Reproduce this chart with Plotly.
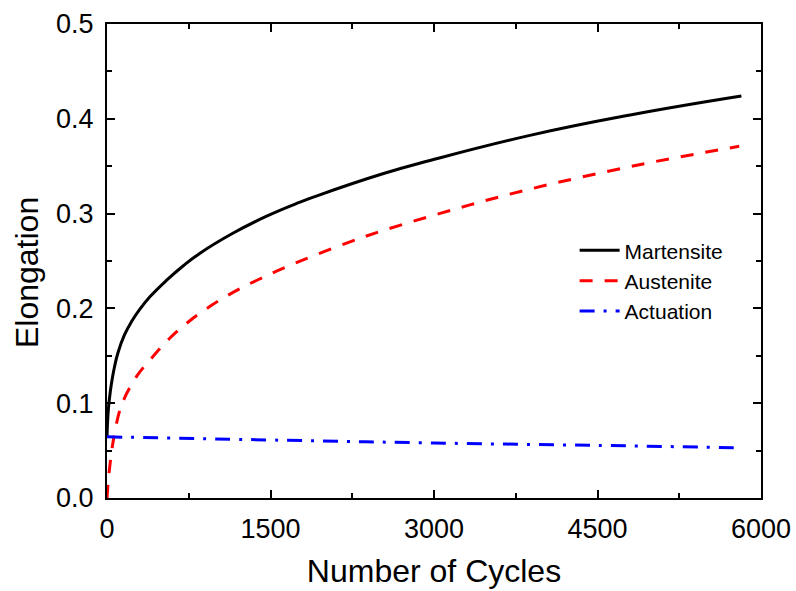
import plotly.graph_objects as go

# Martensite (black solid)
mart_x = [0, 5, 15, 30, 50, 70, 100, 160, 230, 300, 400, 550, 700, 850, 1150, 1460, 1770, 1920, 2530, 2963, 3880, 4800, 5820]
mart_y = [0.064, 0.080, 0.097, 0.112, 0.127, 0.139, 0.153, 0.172, 0.187, 0.199, 0.213, 0.230, 0.245, 0.258, 0.279, 0.297, 0.312, 0.3185, 0.342, 0.356, 0.3825, 0.404, 0.424]

# Austenite (red dashed)
aus_x = [0, 15, 40, 60, 130, 270, 420, 580, 760, 970, 1190, 1400, 1650, 2320, 3080, 3850, 4860, 5800]
aus_y = [0.0, 0.022, 0.047, 0.062, 0.097, 0.128, 0.149, 0.169, 0.187, 0.204, 0.219, 0.231, 0.244, 0.274, 0.301, 0.325, 0.351, 0.371]

# Actuation (blue dash-dot)
act_x = [0, 1590, 3000, 4500, 5820]
act_y = [0.0645, 0.061, 0.058, 0.0555, 0.053]

FONT = "Liberation Sans, Arial, sans-serif"

fig = go.Figure()
fig.add_trace(go.Scatter(x=mart_x, y=mart_y, mode="lines", name="Martensite",
                         line=dict(color="black", width=3, shape="spline", smoothing=1.3)))
fig.add_trace(go.Scatter(x=aus_x, y=aus_y, mode="lines", name="Austenite",
                         line=dict(color="red", width=3, dash="13px,12px", shape="spline", smoothing=1.0)))
fig.add_trace(go.Scatter(x=act_x, y=act_y, mode="lines", name="Actuation",
                         line=dict(color="blue", width=3, dash="15px,9px,3px,9px", shape="spline")))

axis_common = dict(
    showline=True, linecolor="black", linewidth=2, mirror="allticks",
    ticks="inside", ticklen=8, tickwidth=2, tickcolor="black",
    showgrid=False, zeroline=False, automargin=False,
    tickfont=dict(family=FONT, size=27, color="black"),
)

fig.update_xaxes(
    range=[0, 6000], tick0=0, dtick=1500,
    minor=dict(ticks="inside", ticklen=5, tickwidth=2, tickcolor="black", dtick=750, showgrid=False),
    title=dict(text="Number of Cycles", font=dict(family=FONT, size=32, color="black"), standoff=16),
    ticklabelstandoff=6,
    **axis_common,
)
fig.update_yaxes(
    range=[0, 0.5], tick0=0, dtick=0.1, tickformat=".1f",
    minor=dict(ticks="inside", ticklen=5, tickwidth=2, tickcolor="black", dtick=0.05, showgrid=False),
    ticklabelstandoff=6,
    **axis_common,
)

fig.update_layout(
    width=796, height=591,
    margin=dict(l=107, r=35, t=24, b=93),
    paper_bgcolor="white", plot_bgcolor="white",
    showlegend=True,
    legend=dict(x=0.715, y=0.565, xanchor="left", yanchor="top",
                font=dict(family=FONT, size=21, color="black"),
                bgcolor="rgba(0,0,0,0)", borderwidth=0, itemwidth=40,
                tracegroupgap=0),
    annotations=[dict(text="Elongation", textangle=-90, xref="paper", yref="paper",
                      x=-0.122, y=0.475, xanchor="center", yanchor="middle", showarrow=False,
                      font=dict(family=FONT, size=32, color="black"))],
)

fig.write_html("out.html")
